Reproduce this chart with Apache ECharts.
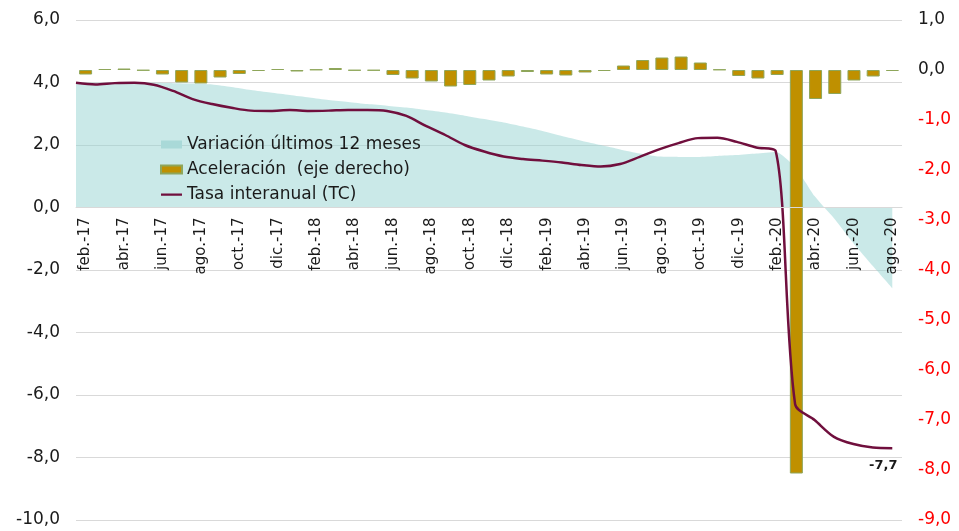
<!DOCTYPE html>
<html><head><meta charset="utf-8">
<script src="https://cdn.jsdelivr.net/npm/echarts@6/dist/echarts.min.js"></script>
<style>html,body{margin:0;padding:0;background:#fff}#c{width:959px;height:531px}</style>
</head><body><div id="c"></div>
<script>
const categories = [
  'feb.-17','mar.-17','abr.-17','may.-17','jun.-17','jul.-17','ago.-17','sep.-17','oct.-17','nov.-17','dic.-17',
  'ene.-18','feb.-18','mar.-18','abr.-18','may.-18','jun.-18','jul.-18','ago.-18','sep.-18','oct.-18','nov.-18','dic.-18',
  'ene.-19','feb.-19','mar.-19','abr.-19','may.-19','jun.-19','jul.-19','ago.-19','sep.-19','oct.-19','nov.-19','dic.-19',
  'ene.-20','feb.-20','mar.-20','abr.-20','may.-20','jun.-20','jul.-20','ago.-20'
];
const variacion12m = [3.99,3.99,4.0,4.0,3.99,3.98,3.97,3.94,3.86,3.76,3.68,3.60,3.52,3.44,3.38,3.31,3.26,3.20,3.12,3.04,2.94,2.83,2.72,2.59,2.45,2.29,2.14,2.0,1.86,1.73,1.63,1.62,1.62,1.65,1.68,1.73,1.78,1.30,0.37,-0.34,-1.14,-1.87,-2.58];
const aceleracion = [-0.09,0.02,0.03,-0.01,-0.09,-0.25,-0.27,-0.15,-0.08,-0.02,0.02,-0.03,0.01,0.04,-0.01,-0.01,-0.10,-0.17,-0.23,-0.33,-0.30,-0.21,-0.13,-0.04,-0.09,-0.11,-0.05,-0.02,0.09,0.20,0.25,0.27,0.15,0.01,-0.12,-0.17,-0.10,-8.07,-0.58,-0.48,-0.21,-0.13,-0.02];
const tasaInteranual = [3.99,3.94,3.98,3.99,3.93,3.73,3.47,3.31,3.19,3.10,3.09,3.12,3.09,3.10,3.12,3.12,3.09,2.93,2.61,2.32,2.00,1.79,1.63,1.55,1.50,1.44,1.36,1.31,1.39,1.62,1.86,2.06,2.22,2.23,2.10,1.92,1.81,-6.29,-6.80,-7.34,-7.57,-7.68,-7.70];
const leftTicks = [-10,-8,-6,-4,-2,0,2,4,6];
const rightTicks = [-9,-8,-7,-6,-5,-4,-3,-2,-1,0,1];
const seriesNames = ['Variación últimos 12 meses','Aceleración  (eje derecho)','Tasa interanual (TC)'];

const FONT = "'DejaVu Sans', sans-serif";
const fmt = v => Number(v).toFixed(1).replace('.', ',');
const last = tasaInteranual.length - 1;
const GRID_TOP = 20, GRID_BOTTOM = 11, H = 531;
const plotH = H - GRID_TOP - GRID_BOTTOM;
const lMin = leftTicks[0], lMax = leftTicks[leftTicks.length - 1];
// move category axis up to the left axis zero line
const zeroOffset = -plotH * (0 - lMin) / (lMax - lMin);

const chart = echarts.init(document.getElementById('c'), null, {renderer:'canvas'});
chart.setOption({
  animation: false,
  backgroundColor: '#ffffff',
  grid: {left: 76, right: 57, top: GRID_TOP, bottom: GRID_BOTTOM, containLabel: false},
  legend: {
    left: 160, top: 136, padding: 0, orient: 'vertical', itemGap: 8,
    itemWidth: 21, itemHeight: 8,
    textStyle: {fontFamily: FONT, fontSize: 17, color: '#1a1a1a'},
    data: [
      {name: seriesNames[0], icon: 'rect', itemStyle: {color: '#a9d9d8'}},
      {name: seriesNames[1], icon: 'rect'},
      {name: seriesNames[2], icon: 'path://M0,0h1v0.01h-1zM0,3h21v2.2h-21zM0,8h1v0.01h-1z'}
    ]
  },
  xAxis: [
    {
      type: 'category', data: categories, boundaryGap: true, position: 'bottom',
      offset: zeroOffset, z: 10,
      axisLine: {show: true, onZero: false, lineStyle: {color: '#d9d9d9', width: 1}},
      axisTick: {show: false},
      axisLabel: {interval: 1, rotate: 90, margin: 10, fontFamily: FONT, fontSize: 15, color: '#1a1a1a'},
      splitLine: {show: false}
    },
    {
      type: 'value', show: false, position: 'top', min: 0, max: 42.5,
      splitLine: {show: false}
    }
  ],
  yAxis: [
    {
      type: 'value', min: lMin, max: lMax, interval: 2,
      axisLine: {show: false}, axisTick: {show: false},
      axisLabel: {formatter: fmt, margin: 16, fontFamily: FONT, fontSize: 17, color: '#1a1a1a'},
      splitLine: {show: true, lineStyle: {color: '#d9d9d9', width: 1}}
    },
    {
      type: 'value', position: 'right', min: rightTicks[0], max: rightTicks[rightTicks.length-1], interval: 1,
      axisLine: {show: false}, axisTick: {show: false},
      axisLabel: {formatter: fmt, margin: 16, fontFamily: FONT, fontSize: 17,
        color: v => (Number(v) < 0 ? '#ff0000' : '#1a1a1a')},
      splitLine: {show: false}
    }
  ],
  series: [
    {
      name: seriesNames[0], type: 'line', xAxisIndex: 1, yAxisIndex: 0,
      data: variacion12m.map((v, i) => [i, v]),
      symbol: 'none', smooth: 0.2, z: 1,
      lineStyle: {width: 0, color: '#a9d9d8'},
      itemStyle: {color: '#a9d9d8'},
      areaStyle: {color: 'rgba(150,212,210,0.5)', opacity: 1, origin: 0}
    },
    {
      name: seriesNames[1], type: 'bar', xAxisIndex: 0, yAxisIndex: 1,
      data: aceleracion, barWidth: 13, z: 2,
      itemStyle: {color: '#bf9000', borderColor: '#8ea65a', borderWidth: 1}
    },
    {
      name: seriesNames[2], type: 'line', xAxisIndex: 1, yAxisIndex: 0,
      data: tasaInteranual.map((v, i) => i === last ? {
        value: [i, v],
        label: {show: true, position: 'bottom', offset: [-9, 6], formatter: p => fmt(p.value[1]),
          fontFamily: FONT, fontSize: 13, fontWeight: 'bold', color: '#1a1a1a'}
      } : [i, v]),
      symbol: 'circle', symbolSize: 0.01, showSymbol: true, showAllSymbol: true,
      smooth: 0.3, z: 3,
      lineStyle: {width: 2.5, color: '#700f3d'},
      itemStyle: {color: '#700f3d'}
    }
  ]
});
</script></body></html>
